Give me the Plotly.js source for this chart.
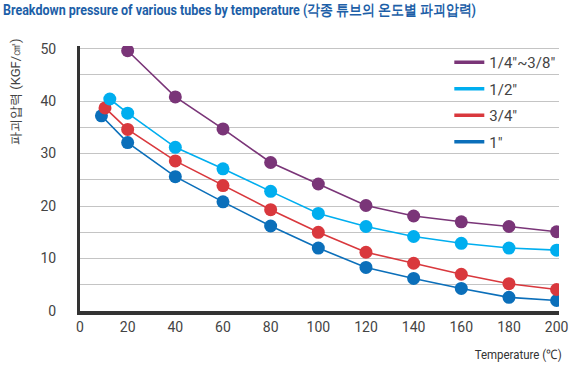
<!DOCTYPE html>
<html>
<head>
<meta charset="utf-8">
<script src="https://cdn.plot.ly/plotly-3.0.1.min.js"></script>
<style>html,body{margin:0;padding:0;background:#fff;}#chart{width:576px;height:365px;}</style>
</head>
<body>
<div id="chart"></div>
<script>
const seriesNames = ['1/4"~3/8"', '1/2"', '3/4"', '1"'];
const seriesColors = ['#7a3578', '#00aeef', '#d9383d', '#0b6fba'];

const xPurple = [20, 40, 60, 80, 100, 120, 140, 160, 180, 200];
const yPurple = [49.6, 40.8, 34.7, 28.3, 24.2, 20.1, 18.1, 17.0, 16.1, 15.1];

const xLightBlue = [12.5, 20, 40, 60, 80, 100, 120, 140, 160, 180, 200];
const yLightBlue = [40.4, 37.7, 31.2, 27.1, 22.8, 18.6, 16.1, 14.2, 12.9, 12.0, 11.6];

const xRed = [10.5, 20, 40, 60, 80, 100, 120, 140, 160, 180, 200];
const yRed = [38.7, 34.6, 28.6, 23.9, 19.3, 15.0, 11.2, 9.1, 7.0, 5.2, 4.1];

const xDarkBlue = [9, 20, 40, 60, 80, 100, 120, 140, 160, 180, 200];
const yDarkBlue = [37.2, 32.1, 25.6, 20.8, 16.2, 12.0, 8.3, 6.2, 4.3, 2.6, 2.0];

const xTicks = [0, 20, 40, 60, 80, 100, 120, 140, 160, 180, 200];
const yTicks = [0, 10, 20, 30, 40, 50];

const titleText = 'Breakdown pressure of various tubes by temperature (각종 튜브의 온도별 파괴압력)';
const yTitleText = '파괴압력 (KGF/㎠)';
const xTitleText = 'Temperature (℃)';

const xs = [xPurple, xLightBlue, xRed, xDarkBlue];
const ys = [yPurple, yLightBlue, yRed, yDarkBlue];

const font = 'Roboto, Liberation Sans, sans-serif';

const traces = [];
for (let i = 3; i >= 0; i--) {
  traces.push({
    x: xs[i], y: ys[i], type: 'scatter', mode: 'lines+markers',
    line: {color: seriesColors[i], width: 1.6},
    marker: {color: seriesColors[i], size: 13},
    showlegend: false, hoverinfo: 'skip'
  });
}
for (let i = 0; i < 4; i++) {
  traces.push({
    x: [null], y: [null], type: 'scatter', mode: 'lines',
    name: seriesNames[i], legendgroup: 'g' + i,
    line: {color: seriesColors[i], width: 3.5},
    showlegend: true
  });
}

const layout = {
  width: 576, height: 365,
  margin: {l: 80, r: 17, t: 46, b: 54},
  paper_bgcolor: '#fff', plot_bgcolor: '#fff',
  font: {family: font, color: '#444', size: 14},
  showlegend: true,
  legend: {
    x: 0.771, y: 1.0, xanchor: 'left', yanchor: 'top',
    bgcolor: 'rgba(0,0,0,0)', tracegroupgap: 4,
    font: {family: font, size: 15, color: '#444'},
    itemwidth: 30, traceorder: 'grouped'
  },
  xaxis: {
    range: [0, 201], tickvals: xTicks, ticktext: xTicks.map(String),
    showgrid: false, zeroline: false,
    showline: true, linecolor: '#333', linewidth: 4,
    ticks: '', ticklen: 0, tickfont: {family: font, size: 14, color: '#444'},
    fixedrange: true
  },
  yaxis: {
    range: [0, 50.5], tickvals: yTicks, ticktext: yTicks.map(String),
    showgrid: true, gridcolor: '#c4c4c4', gridwidth: 1,
    minor: {dtick: 5, tick0: 0, showgrid: true, gridcolor: '#c4c4c4', gridwidth: 1},
    zeroline: false,
    showline: true, linecolor: '#333', linewidth: 3,
    ticks: '', ticklabelstandoff: 18, tickfont: {family: font, size: 14, color: '#444'},
    fixedrange: true
  },
  annotations: [
    {text: titleText, xref: 'paper', yref: 'paper', x: -79/479, y: 1 + 36/265,
     xanchor: 'left', yanchor: 'middle', align: 'left', showarrow: false,
     font: {family: font, size: 14.5, color: '#1d5fa8', weight: 'bold'}},
    {text: yTitleText, xref: 'paper', yref: 'paper', x: -65/479, y: (311 - 92) / 265,
     xanchor: 'center', yanchor: 'middle', textangle: -90, showarrow: false,
     font: {family: font, size: 13, color: '#444'}},
    {text: xTitleText, xref: 'paper', yref: 'paper', x: (564 - 80) / 479, y: -43/265,
     xanchor: 'right', yanchor: 'middle', align: 'right', showarrow: false,
     font: {family: font, size: 13, color: '#333'}}
  ]
};

Plotly.newPlot('chart', traces, layout, {staticPlot: true, displayModeBar: false}).then(function () {
  const texts = document.querySelectorAll('.annotation-text');
  const widths = [473, null, 87];
  texts.forEach(function (t, i) {
    if (widths[i]) {
      t.setAttribute('textLength', widths[i]);
      t.setAttribute('lengthAdjust', 'spacingAndGlyphs');
    }
  });
});
</script>
</body>
</html>
